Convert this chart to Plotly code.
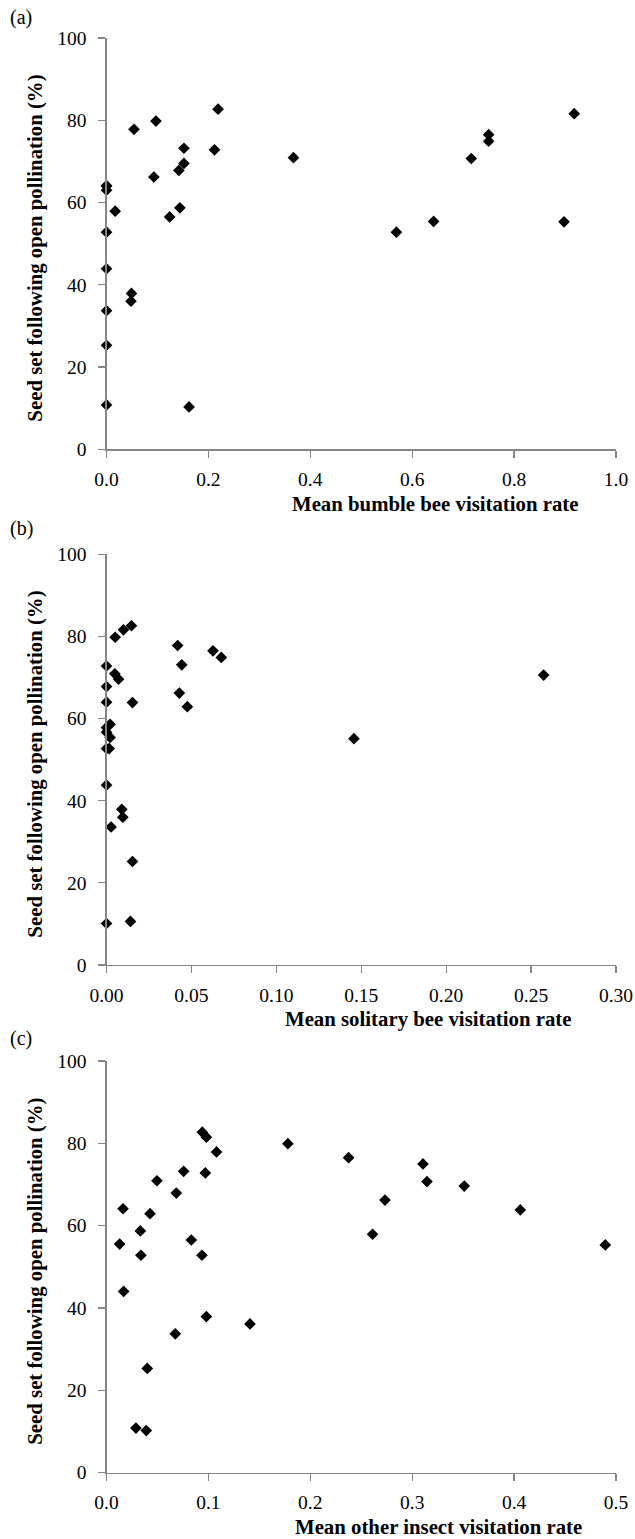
import plotly.graph_objects as go

# Panel (a): bumble bee
a_x = [0, 0, 0, 0.017, 0, 0, 0, 0, 0, 0.049, 0.048, 0.054, 0.097, 0.093, 0.124,
       0.144, 0.142, 0.152, 0.152, 0.162, 0.212, 0.219, 0.367, 0.569, 0.642,
       0.716, 0.750, 0.750, 0.898, 0.918]
a_y = [64.1, 63.0, 64.0, 57.9, 52.8, 43.9, 33.7, 25.3, 10.8, 37.9, 36.0, 77.8, 79.8,
       66.2, 56.5, 58.7, 67.8, 69.5, 73.2, 10.3, 72.8, 82.7, 70.9, 52.8, 55.4,
       70.7, 76.5, 74.9, 55.3, 81.6]

# Panel (b): solitary bee
b_x = [0.0147, 0.0100, 0.0051, 0.0419, 0.0627, 0.0676, 0.0443, 0, 0.0049, 0.0071,
       0, 0.0429, 0, 0.0153, 0.0476, 0.0021, 0, 0, 0.0021, 0, 0.0016, 0, 0.0090,
       0.0096, 0.0027, 0.0153, 0, 0.0141, 0.1457, 0.2574]
b_y = [82.6, 81.6, 79.8, 77.8, 76.5, 74.9, 73.1, 72.8, 70.9, 69.6, 67.8, 66.2,
       64.0, 63.9, 62.9, 58.6, 57.8, 56.7, 55.4, 52.7, 52.7, 43.8, 37.9, 36.0,
       33.6, 25.2, 10.1, 10.6, 55.1, 70.6]

# Panel (c): other insects
c_x = [0.094, 0.098, 0.108, 0.178, 0.0757, 0.097, 0.0495, 0.0685, 0.0162, 0.0427,
       0.0332, 0.0129, 0.0832, 0.0338, 0.0937, 0.0168, 0.098, 0.1408, 0.0675, 0.040,
       0.0289, 0.039, 0.2376, 0.3106, 0.3145, 0.3511, 0.2733, 0.2611, 0.4061, 0.4895]
c_y = [82.7, 81.5, 77.9, 79.9, 73.2, 72.8, 70.9, 67.9, 64.1, 62.9, 58.7, 55.5,
       56.5, 52.8, 52.8, 44.0, 37.9, 36.1, 33.7, 25.3, 10.8, 10.2, 76.5, 75.0,
       70.7, 69.6, 66.2, 57.9, 63.8, 55.3]

panel_labels = ["(a)", "(b)", "(c)"]
x_titles = ["Mean bumble bee visitation rate",
            "Mean solitary bee visitation rate",
            "Mean other insect visitation rate"]
y_title = "Seed set following open pollination (%)"
x_ranges = [[0, 1.0], [0, 0.30], [0, 0.5]]
x_dticks = [0.2, 0.05, 0.1]
x_formats = [".1f", ".2f", ".1f"]

W, H = 635, 1539
FONT = "Liberation Serif"
AXC = "#868686"
TICK_SIZE = 19.5
TITLE_SIZE = 20.8
LABEL_SIZE = 20

# pixel geometry (screen coordinates of the reference)
x_left, x_right = 106.5, 616.0
tops = [38.0, 554.3, 1061.0]
bottoms = [449.3, 965.0, 1472.5]
label_y = [17.5, 528.5, 1038.0]
xtitle_cx = [435, 428, 438]

def fx(p):
    return p / W

def fy(p):
    return 1 - p / H

fig = go.Figure()
data = [(a_x, a_y), (b_x, b_y), (c_x, c_y)]
for i, (xs, ys) in enumerate(data):
    k = "" if i == 0 else str(i + 1)
    fig.add_trace(go.Scatter(
        x=xs, y=ys, mode="markers",
        marker=dict(symbol="diamond", size=9, color="black", line=dict(width=0)),
        cliponaxis=False, showlegend=False, hoverinfo="skip",
        xaxis="x" + k, yaxis="y" + k))

layout = dict(
    width=W, height=H,
    margin=dict(l=0, r=0, t=0, b=0, autoexpand=False),
    paper_bgcolor="white", plot_bgcolor="white",
    font=dict(family=FONT, size=TICK_SIZE, color="black"),
    showlegend=False,
)
annotations = []
for i in range(3):
    k = "" if i == 0 else str(i + 1)
    layout["xaxis" + k] = dict(
        domain=[fx(x_left), fx(x_right)], range=x_ranges[i], dtick=x_dticks[i], tick0=0,
        tickformat=x_formats[i], showgrid=False, zeroline=False,
        showline=True, linecolor=AXC, linewidth=1.2,
        ticks="outside", ticklen=7, tickcolor=AXC, tickwidth=1.2,
        tickfont=dict(family=FONT, size=TICK_SIZE, color="black"),
        ticklabelstandoff=5, automargin=False,
        anchor="y" + k, fixedrange=True)
    layout["yaxis" + k] = dict(
        domain=[fy(bottoms[i]), fy(tops[i])], range=[0, 100], dtick=20, tick0=0,
        showgrid=False, zeroline=False,
        showline=True, linecolor=AXC, linewidth=1.2,
        ticks="outside", ticklen=7, tickcolor=AXC, tickwidth=1.2,
        tickfont=dict(family=FONT, size=TICK_SIZE, color="black"),
        ticklabelstandoff=8, automargin=False,
        anchor="x" + k, fixedrange=True)
    annotations.append(dict(
        text=panel_labels[i], xref="paper", yref="paper",
        x=fx(21), y=fy(label_y[i]), xanchor="center", yanchor="middle",
        showarrow=False, font=dict(family=FONT, size=LABEL_SIZE, color="black")))
    annotations.append(dict(
        text="<b>" + x_titles[i] + "</b>", xref="paper", yref="paper",
        x=fx(xtitle_cx[i]), y=fy(bottoms[i] + 54), xanchor="center", yanchor="middle",
        showarrow=False, font=dict(family=FONT, size=TITLE_SIZE, color="black")))
    annotations.append(dict(
        text="<b>" + y_title + "</b>", xref="paper", yref="paper",
        x=fx(35), y=fy((tops[i] + bottoms[i]) / 2 + 5), xanchor="center",
        yanchor="middle", textangle=-90,
        showarrow=False, font=dict(family=FONT, size=TITLE_SIZE, color="black")))
layout["annotations"] = annotations
fig.update_layout(**layout)

# remove the browser's default page margin so the figure fills the window exactly
post = ("document.body.style.margin='0';"
        "document.body.style.padding='0';"
        "document.documentElement.style.overflow='hidden';")
fig.write_html("out.html", post_script=post,
               config={"displayModeBar": False, "staticPlot": True})
